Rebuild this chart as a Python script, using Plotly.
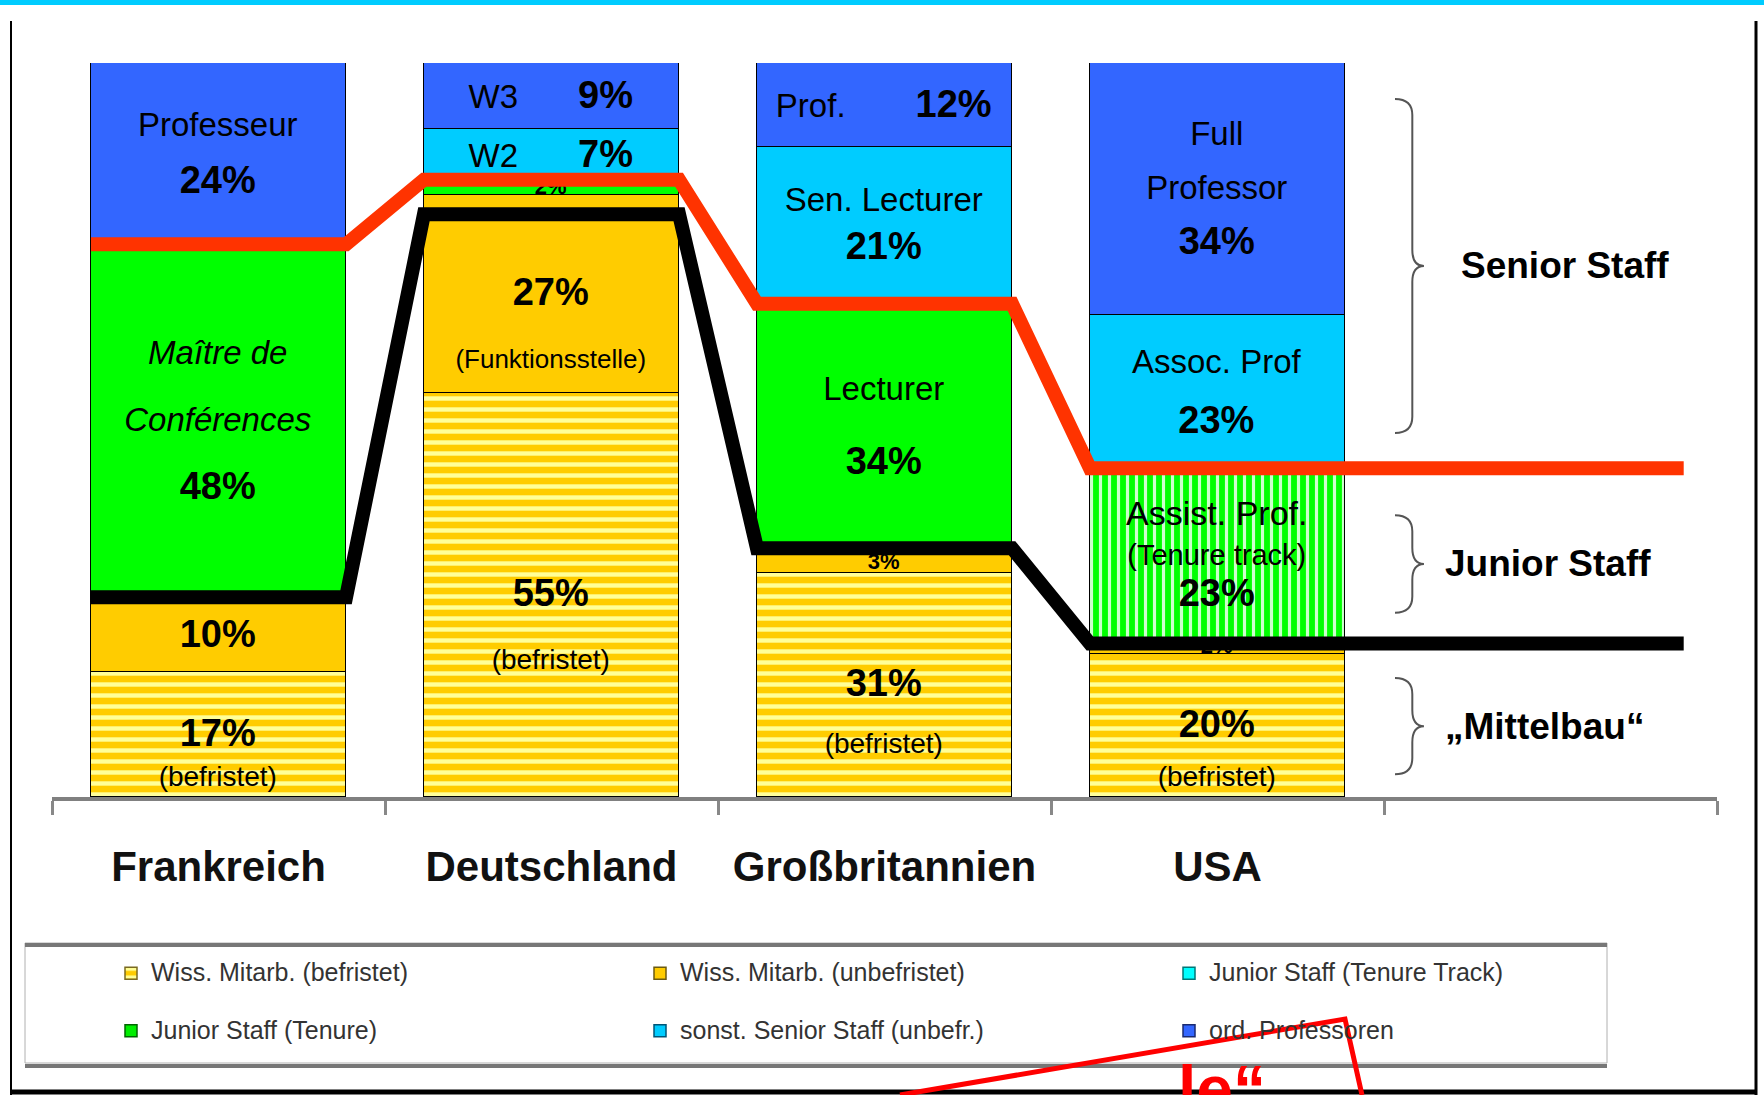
import plotly.graph_objects as go

countries = ["Frankreich", "Deutschland", "Großbritannien", "USA"]

# Balkenanteile (Hoehe in % des Balkens)
befristet = [17, 55, 30.5, 19.5]       # Wiss. Mitarb. (befristet)
unbefristet = [10.2, 27, 3, 2]         # Wiss. Mitarb. (unbefristet)
tenure_track = [0, 0, 0, 23]           # Assist. Prof. (Tenure track)
tenure = [48, 2, 34, 0]                # Junior Staff (Tenure)
senior_unbefr = [0, 7, 21, 21.2]       # sonst. Senior Staff (unbefr.)
professoren = [24.8, 9, 11.5, 34.3]    # ord. Professoren

# Hoehe der roten (Senior/Junior) und schwarzen (Junior/Mittelbau) Trennlinie
red_level = [75.3, 84.1, 67.2, 44.8]
black_level = [27.2, 79.4, 33.9, 20.9]

groups = ["Senior Staff", "Junior Staff", "„Mittelbau“"]
group_low = [49.6, 25.1, 3.1]
group_high = [95.1, 38.4, 16.2]

legend_names = ["Wiss. Mitarb. (befristet)", "Wiss. Mitarb. (unbefristet)",
                "Junior Staff (Tenure Track)", "Junior Staff (Tenure)",
                "sonst. Senior Staff (unbefr.)", "ord. Professoren"]

FONT = "Liberation Sans, Arial, sans-serif"
nb = "\u00a0"


def pct(s, size=38):
    return "<b><span style='font-size:%dpx'>%s</span></b>" % (size, s)


def reg(s, size=33):
    return "<span style='font-size:%dpx'>%s</span>" % (size, s)


blank = reg(nb) + "<br>"

befristet_text = [blank + pct("17%") + "<br>" + reg("(befristet)", 28),
                  blank + pct("55%") + "<br>" + reg("(befristet)", 28),
                  blank + pct("31%") + "<br>" + reg("(befristet)", 28),
                  blank + pct("20%") + "<br>" + reg("(befristet)", 28)]
unbefristet_text = [pct("10%"),
                    blank + pct("27%") + "<br>" + reg("(Funktionsstelle)", 26),
                    pct("3%", 22), pct("2%", 22)]
tenure_track_text = ["", "", "",
                     reg("Assist. Prof.", 34) + "<br>" + reg("(Tenure track)", 29) + "<br>" + pct("23%")]
tenure_text = ["<i>" + reg("Maître de") + "</i><br><i>" + reg("Conférences") + "</i><br>" + pct("48%"),
               pct("2%", 22), reg("Lecturer") + "<br>" + pct("34%"), ""]
senior_text = ["", reg("W2") + reg(nb * 6, 36) + pct("7%"),
               reg("Sen. Lecturer") + "<br>" + pct("21%"), reg("Assoc. Prof") + "<br>" + pct("23%")]
prof_text = [reg("Professeur") + "<br>" + pct("24%"), reg("W3") + reg(nb * 6, 36) + pct("9%"),
             reg("Prof.") + reg(nb * 7, 36) + pct("12%"),
             reg("Full") + "<br>" + reg("Professor") + "<br>" + pct("34%")]

# Grundschrift je Segment (bestimmt den Zeilenabstand)
befristet_fs = [31, 48, 44, 38]
unbefristet_fs = [38, 48, 22, 22]
tenure_track_fs = [31, 31, 31, 31]
tenure_fs = [52, 22, 57, 33]
senior_fs = [38, 38, 37, 46]
prof_fs = [44, 38, 38, 42]

# Seitenlayout in Pixeln
W, H = 1764, 1095
ML, MR, MT, MB = 52, 47, 63, 298
PW, PH = W - ML - MR, H - MT - MB


def xp(px):
    return (px - ML) / PW


def yp(py):
    return (H - MB - py) / PH


BW = 0.766
x = list(range(len(countries)))

yellow_pat = dict(shape="-", fgcolor="#FFFF99", bgcolor="#FFCC00", size=11, solidity=0.4, fillmode="replace")
green_pat = dict(shape="|", fgcolor="#CCFFCC", bgcolor="#00FF00", size=9, solidity=0.35, fillmode="replace")

series = [
    (befristet, befristet_text, befristet_fs, dict(color="#FFCC00", pattern=yellow_pat)),
    (unbefristet, unbefristet_text, unbefristet_fs, dict(color="#FFCC00")),
    (tenure_track, tenure_track_text, tenure_track_fs, dict(color="#00FF00", pattern=green_pat)),
    (tenure, tenure_text, tenure_fs, dict(color="#00FF00")),
    (senior_unbefr, senior_text, senior_fs, dict(color="#00CCFF")),
    (professoren, prof_text, prof_fs, dict(color="#3366FF")),
]

fig = go.Figure()
for vals, txt, fs, mk in series:
    mk = dict(mk, line=dict(color="black", width=1.5))
    fig.add_trace(go.Bar(x=x, y=vals, width=BW, marker=mk, text=txt,
                         textposition="inside", insidetextanchor="middle",
                         constraintext="none", textangle=0,
                         textfont=dict(family=FONT, size=fs, color="black"),
                         showlegend=False, hoverinfo="skip"))

# Legende (eigene Eintraege, Farben wie in der Vorlage)
legend_markers = [
    dict(color="#FFCC00", pattern=yellow_pat, line=dict(color="#7a6a20", width=1.5)),
    dict(color="#FFCC00", line=dict(color="#6b5a10", width=1.5)),
    dict(color="#00FFFF", line=dict(color="#007777", width=1.5)),
    dict(color="#00EE00", line=dict(color="#006600", width=1.5)),
    dict(color="#00CCFF", line=dict(color="#005577", width=1.5)),
    dict(color="#3366FF", line=dict(color="#1a2a70", width=1.5)),
]
for name, mk in zip(legend_names, legend_markers):
    fig.add_trace(go.Bar(x=[None], y=[None], marker=mk,
                         name="<span style='font-size:25px'>" + name + "</span><br>" + nb))

# Trennlinien
line_end = 4.4
for levels, col in [(red_level, "#FF3300"), (black_level, "#000000")]:
    lx, ly = [], []
    for i, lv in enumerate(levels):
        lx += [i - BW / 2, i + BW / 2]
        ly += [lv, lv]
    lx[-1] = line_end
    fig.add_trace(go.Scatter(x=lx, y=ly, mode="lines", showlegend=False, hoverinfo="skip",
                             line=dict(color=col, width=14)))

# geschweifte Klammern rechts
shapes = []
bx0, bxv, bxt, r = 3.533, 3.585, 3.62, 2.2
for lo, hi in zip(group_low, group_high):
    mid = (lo + hi) / 2
    path = (f"M {bx0},{hi} Q {bxv},{hi} {bxv},{hi - r} L {bxv},{mid + r} "
            f"Q {bxv},{mid} {bxt},{mid} Q {bxv},{mid} {bxv},{mid - r} "
            f"L {bxv},{lo + r} Q {bxv},{lo} {bx0},{lo}")
    shapes.append(dict(type="path", path=path, xref="x", yref="y",
                       line=dict(color="#555555", width=2)))

annotations = []
for name, lo, hi, gx in zip(groups, group_low, group_high, [3.725, 3.677, 3.677]):
    annotations.append(dict(x=gx, y=(lo + hi) / 2, xref="x", yref="y", text="<b>" + name + "</b>",
                            showarrow=False, xanchor="left", yanchor="middle",
                            font=dict(family=FONT, size=37, color="black")))

# Rahmen der Folie, Legendenkasten, angeschnittene rote Markierung
shapes += [
    dict(type="rect", xref="paper", yref="paper", x0=xp(0), x1=xp(W), y0=yp(0), y1=yp(5),
         fillcolor="#00CCFF", line=dict(width=0)),
    dict(type="line", xref="paper", yref="paper", x0=xp(11), x1=xp(11), y0=yp(21), y1=yp(H),
         line=dict(color="black", width=2)),
    dict(type="line", xref="paper", yref="paper", x0=xp(1756), x1=xp(1756), y0=yp(21), y1=yp(H),
         line=dict(color="black", width=3)),
    dict(type="line", xref="paper", yref="paper", x0=xp(11), x1=xp(1756), y0=yp(1092), y1=yp(1092),
         line=dict(color="black", width=5)),
    dict(type="rect", xref="paper", yref="paper", x0=xp(25), x1=xp(1607), y0=yp(943), y1=yp(1063),
         line=dict(color="#b0b0b0", width=1)),
    dict(type="line", xref="paper", yref="paper", x0=xp(25), x1=xp(1607), y0=yp(945), y1=yp(945),
         line=dict(color="#777777", width=4)),
    dict(type="line", xref="paper", yref="paper", x0=xp(25), x1=xp(1607), y0=yp(1066), y1=yp(1066),
         line=dict(color="#777777", width=4)),
    dict(type="path", xref="paper", yref="paper",
         path=f"M {xp(900)},{yp(1095)} L {xp(1345)},{yp(1019)} L {xp(1362)},{yp(1095)}",
         line=dict(color="#FF0000", width=5)),
]
annotations.append(dict(x=xp(1222), y=yp(1050), xref="paper", yref="paper", text="<b>le“</b>",
                        showarrow=False, xanchor="center", yanchor="top",
                        font=dict(family=FONT, size=66, color="#FF0000")))

fig.update_layout(
    width=W, height=H, margin=dict(l=ML, r=MR, t=MT, b=MB),
    barmode="stack", bargap=0, plot_bgcolor="white", paper_bgcolor="white",
    font=dict(family=FONT, color="black"),
    shapes=shapes, annotations=annotations,
    legend=dict(orientation="h", x=xp(111), y=yp(953), xanchor="left", yanchor="top",
                entrywidth=484, entrywidthmode="pixels", traceorder="normal", valign="top",
                font=dict(family=FONT, size=21, color="#333333"),
                bgcolor="rgba(0,0,0,0)", borderwidth=0),
    xaxis=dict(range=[-0.5, 4.5], tickmode="array", tickvals=x,
               ticktext=["<b>" + c + "</b>" for c in countries], ticks="",
               tickfont=dict(family=FONT, size=42, color="#111111"), ticklabelstandoff=30,
               showline=True, linecolor="#808080", linewidth=4, showgrid=False, zeroline=False,
               minor=dict(tickmode="array", tickvals=[-0.5, 0.5, 1.5, 2.5, 3.5, 4.5],
                          ticks="outside", ticklen=14, tickwidth=3, tickcolor="#888888")),
    yaxis=dict(range=[0, 100], visible=False, showgrid=False, zeroline=False),
)

fig.write_html("out.html", config={"displayModeBar": False},
               post_script="document.body.style.margin='0';document.body.style.overflow='hidden';")
